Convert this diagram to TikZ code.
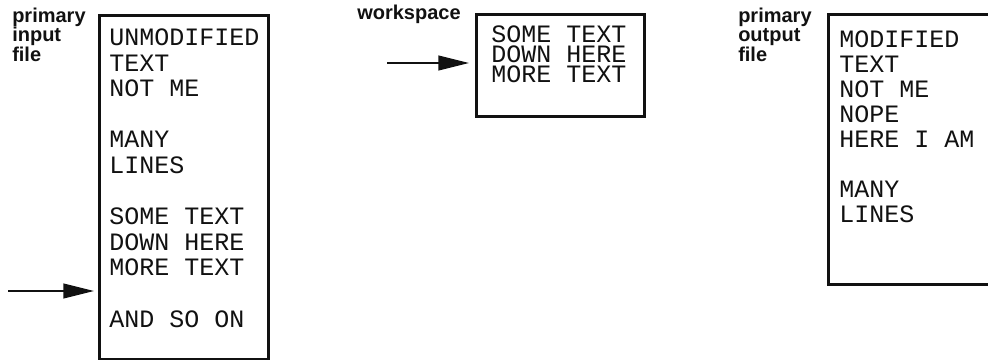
\documentclass[tikz,border=0pt]{standalone}
\usepackage{fontspec}
\setsansfont{Liberation Sans}
\setmonofont{Liberation Mono}
\usetikzlibrary{arrows.meta,positioning}
\definecolor{Ink}{HTML}{111111}

\begin{document}
\begin{tikzpicture}[x=0.75pt,y=-0.75pt,
    filebox/.style={draw=Ink,line width=2pt,inner sep=0pt,anchor=north west},
    listing/.style={anchor=base west,inner sep=0pt,align=left,text=Ink,
      font=\fontsize{18.75}{19.2}\selectfont\ttfamily},
    caption/.style={anchor=base west,inner sep=0pt,align=left,text=Ink,
      font=\fontsize{15}{14.6}\selectfont\sffamily\bfseries},
    feed/.style={-{Triangle[length=23pt,width=11pt]},line width=1.5pt,draw=Ink}
  ]
    \useasboundingbox (0,0) rectangle (988,360);

    % primary input file (text nodes sit on their last baseline)
    \node[filebox,minimum width=126.75pt,minimum height=258pt] (inbox) at (98,14) {};
    \node[caption] (inlabel) at (12,61) {primary\\input\\file};
    \node[listing] (intext) at (109,327)
      {UNMODIFIED\\TEXT\\NOT ME\\[19.2pt]MANY\\LINES\\[19.2pt]SOME TEXT\\DOWN HERE\\MORE TEXT\\[19.2pt]AND SO ON};
    \coordinate (infeed) at (8,291);
    \draw[feed,shorten >=3pt] (infeed) -- (infeed -| inbox.west);

    % workspace
    \node[filebox,minimum width=126pt,minimum height=76.5pt] (wsbox) at (475,13) {};
    \node[caption] (wslabel) at (357,20) {workspace};
    \node[listing,font=\fontsize{18.75}{15}\selectfont\ttfamily] (wstext) at (491,83)
      {SOME TEXT\\DOWN HERE\\MORE TEXT};
    \coordinate (wsfeed) at (387,63);
    \draw[feed,shorten >=4.5pt] (wsfeed) -- (wsfeed -| wsbox.west);

    % primary output file
    \node[filebox,minimum width=129.75pt,minimum height=202.5pt] (outbox) at (827,13) {};
    \node[caption] (outlabel) at (738,61) {primary\\output\\file};
    \node[listing,font=\fontsize{18.75}{18.75}\selectfont\ttfamily] (outtext) at (839,222)
      {MODIFIED\\TEXT\\NOT ME\\NOPE\\HERE I AM\\[18.75pt]MANY\\LINES};
  \end{tikzpicture}
\end{document}
